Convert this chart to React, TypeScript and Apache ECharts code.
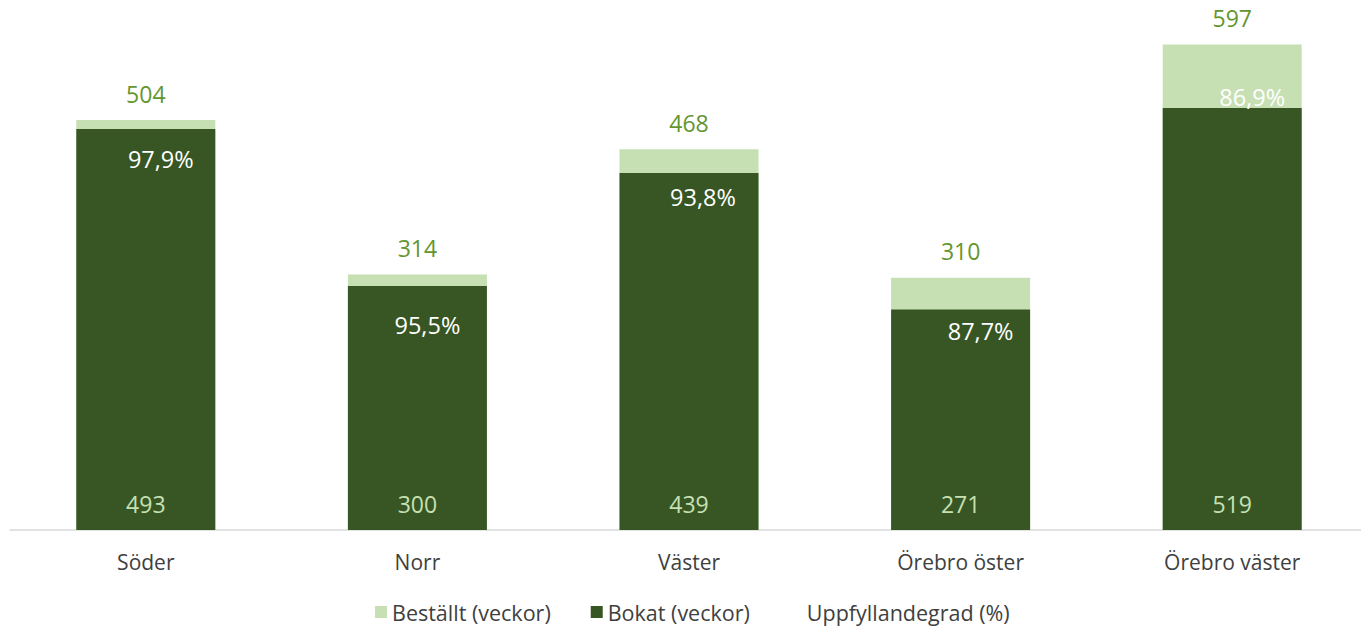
import React, { useEffect, useRef } from "react";
import * as echarts from "echarts";

const categories = ["Söder", "Norr", "Väster", "Örebro öster", "Örebro väster"];
const bestallt = [504, 314, 468, 310, 597];
const bokat = [493, 300, 439, 271, 519];
const uppfyllandegrad = [97.9, 95.5, 93.8, 87.7, 86.9];

// label placement for the percentage labels (layout only)
const pctLabelDx = [15, 10, 14, 20, 20];
const pctLabelDy = [30, 39, 24, 21, -11];

const FONT = "'Open Sans', sans-serif";

export default function App() {
  const ref = useRef<HTMLDivElement>(null);
  useEffect(() => {
    document.body.style.margin = "0";
    document.body.style.overflow = "hidden";
    document.documentElement.style.overflow = "hidden";
    if (!ref.current) return;
    const chart = echarts.init(ref.current, null, { renderer: "svg" });
    chart.setOption({
      animation: false,
      textStyle: { fontFamily: FONT },
      grid: { left: 10, right: 0, top: 42, bottom: 99, containLabel: false },
      legend: {
        bottom: 1,
        left: 370,
        itemWidth: 12,
        itemHeight: 12,
        itemGap: 40,
        textStyle: { fontSize: 21.5, color: "#404040", fontFamily: FONT },
        data: [
          { name: "Beställt (veckor)", icon: "rect" },
          { name: "Bokat (veckor)", icon: "rect" },
          {
            name: "Uppfyllandegrad (%)",
            icon: "rect",
            itemStyle: { opacity: 0 },
            lineStyle: { opacity: 0 },
          },
        ],
      },
      xAxis: {
        type: "category",
        data: categories,
        axisLine: { show: true, lineStyle: { color: "#D9D9D9", width: 1.5 } },
        axisTick: { show: false },
        axisLabel: { fontSize: 21, color: "#404040", margin: 21, fontFamily: FONT },
      },
      yAxis: {
        type: "value",
        min: 0,
        max: 600,
        show: false,
        splitLine: { show: false },
      },
      series: [
        {
          name: "Beställt (veckor)",
          type: "bar",
          data: bestallt,
          barWidth: 139,
          barGap: "-100%",
          itemStyle: { color: "#C6E0B4" },
          label: {
            show: true,
            position: "top",
            distance: 15,
            fontSize: 23,
            color: "#64962F",
            fontFamily: FONT,
          },
          z: 1,
        },
        {
          name: "Bokat (veckor)",
          type: "bar",
          data: bokat,
          barWidth: 139,
          barGap: "-100%",
          itemStyle: { color: "#375623" },
          label: {
            show: true,
            position: "insideBottom",
            distance: 15,
            fontSize: 23,
            color: "#C6E0B4",
            fontFamily: FONT,
          },
          z: 2,
        },
        {
          name: "Uppfyllandegrad (%)",
          type: "line",
          data: bokat.map((v, i) => ({
            value: v,
            label: { offset: [pctLabelDx[i], pctLabelDy[i]] },
          })),
          symbol: "circle",
          symbolSize: 1,
          showSymbol: true,
          itemStyle: { color: "rgba(0,0,0,0)" },
          lineStyle: { opacity: 0 },
          label: {
            show: true,
            position: "inside",
            fontSize: 23.5,
            color: "#FFFFFF",
            fontFamily: FONT,
            formatter: (p: any) =>
              uppfyllandegrad[p.dataIndex].toFixed(1).replace(".", ",") + "%",
          },
          z: 5,
        },
      ],
    });
    return () => chart.dispose();
  }, []);
  return <div ref={ref} style={{ width: 1368, height: 629 }} />;
}
